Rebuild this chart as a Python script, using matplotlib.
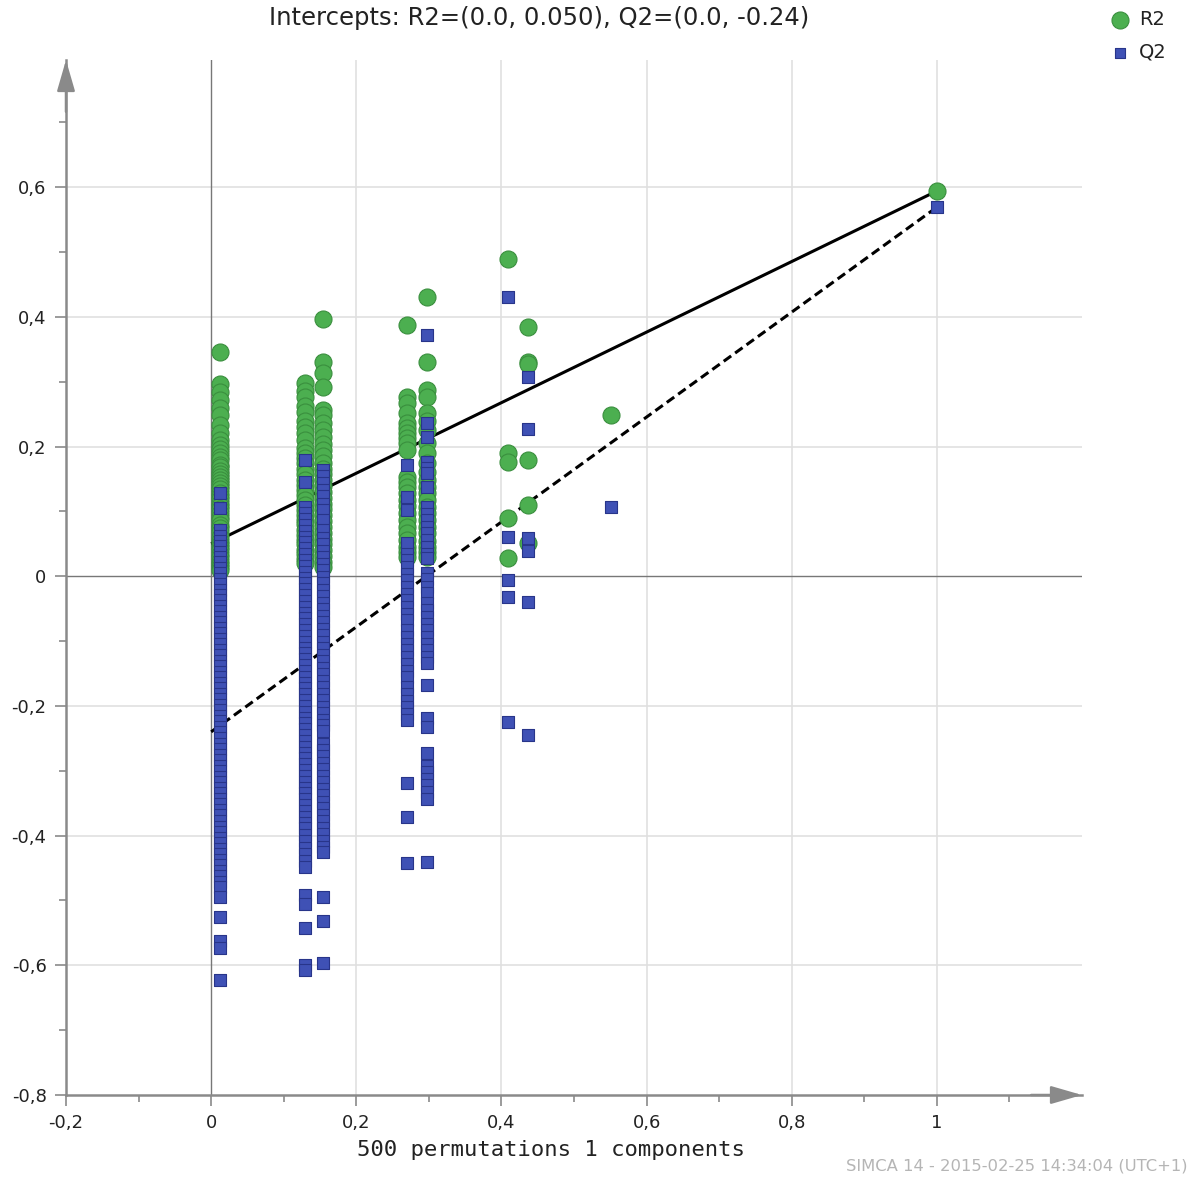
import matplotlib
matplotlib.use("Agg")
import matplotlib.pyplot as plt
import numpy as np

# ---------------- data ----------------
title_text = "Intercepts: R2=(0.0, 0.050), Q2=(0.0, -0.24)"
xlabel_text = "500 permutations 1 components"
footer_text = "SIMCA 14 - 2015-02-25 14:34:04 (UTC+1)"

# correlation of permuted Y with original Y for each group of permutations
col_x = [0.012, 0.129, 0.154, 0.270, 0.297, 0.409, 0.437, 0.551, 1.0]

r2_c1 = [0.346, 0.296, 0.284, 0.272, 0.259, 0.248, 0.233, 0.221, 0.210, 0.203, 0.196,
         0.190, 0.184, 0.179, 0.172, 0.168, 0.162, 0.157, 0.153, 0.148, 0.144, 0.139,
         0.134, 0.128, 0.124, 0.119, 0.113, 0.108, 0.103, 0.098, 0.091, 0.086, 0.079,
         0.074, 0.068, 0.060, 0.055, 0.050, 0.045, 0.040, 0.035, 0.029, 0.024, 0.019,
         0.014, 0.010]
q2_c1 = [0.128, 0.105, 0.071, 0.062, 0.055, 0.046, 0.038, 0.030, 0.022, 0.013, 0.005,
         -0.004, -0.012, -0.021, -0.029, -0.037, -0.046, -0.054, -0.063, -0.071, -0.080,
         -0.088, -0.097, -0.105, -0.114, -0.122, -0.131, -0.139, -0.148, -0.156, -0.165,
         -0.173, -0.182, -0.190, -0.199, -0.207, -0.216, -0.224, -0.233, -0.241, -0.250,
         -0.258, -0.267, -0.275, -0.284, -0.292, -0.301, -0.309, -0.318, -0.326, -0.335,
         -0.343, -0.352, -0.360, -0.369, -0.377, -0.386, -0.394, -0.403, -0.411, -0.420,
         -0.428, -0.437, -0.445, -0.454, -0.462, -0.471, -0.479, -0.495, -0.526, -0.562,
         -0.574, -0.623]

r2_c2 = [0.298, 0.286, 0.276, 0.262, 0.253, 0.240, 0.230, 0.221, 0.210, 0.198, 0.190,
         0.182, 0.174, 0.165, 0.157, 0.148, 0.140, 0.133, 0.125, 0.117, 0.110, 0.102,
         0.095, 0.087, 0.080, 0.072, 0.064, 0.056, 0.049, 0.041, 0.034, 0.027, 0.020]
q2_c2 = [0.179, 0.145, 0.106, 0.097, 0.088, 0.079, 0.070, 0.061, 0.052, 0.043, 0.034,
         0.025, 0.016, 0.007, -0.002, -0.011, -0.020, -0.029, -0.038, -0.047, -0.056,
         -0.065, -0.074, -0.083, -0.092, -0.101, -0.110, -0.119, -0.128, -0.137, -0.146,
         -0.155, -0.164, -0.173, -0.182, -0.191, -0.200, -0.209, -0.218, -0.227, -0.236,
         -0.245, -0.254, -0.263, -0.272, -0.281, -0.290, -0.299, -0.308, -0.317, -0.326,
         -0.335, -0.344, -0.353, -0.362, -0.371, -0.380, -0.389, -0.399, -0.409, -0.419,
         -0.429, -0.439, -0.449, -0.492, -0.505, -0.542, -0.600, -0.608]

r2_c3 = [0.397, 0.330, 0.313, 0.292, 0.256, 0.248, 0.236, 0.225, 0.215, 0.204, 0.194,
         0.185, 0.175, 0.166, 0.157, 0.148, 0.139, 0.130, 0.121, 0.112, 0.103, 0.094,
         0.085, 0.076, 0.067, 0.058, 0.049, 0.040, 0.031, 0.022, 0.014]
q2_c3 = [0.164, 0.154, 0.144, 0.133, 0.123, 0.112, 0.102, 0.086, 0.071, 0.059, 0.049,
         0.039, 0.029, 0.019, 0.009, -0.001, -0.011, -0.021, -0.031, -0.041, -0.051,
         -0.061, -0.071, -0.081, -0.091, -0.101, -0.111, -0.121, -0.131, -0.141, -0.151,
         -0.161, -0.171, -0.181, -0.191, -0.201, -0.211, -0.221, -0.230, -0.238, -0.258,
         -0.268, -0.278, -0.288, -0.298, -0.308, -0.318, -0.328, -0.338, -0.348, -0.358,
         -0.368, -0.378, -0.388, -0.398, -0.408, -0.418, -0.426, -0.495, -0.531, -0.596]

r2_c4 = [0.387, 0.276, 0.267, 0.252, 0.236, 0.228, 0.221, 0.213, 0.205, 0.194, 0.153,
         0.146, 0.137, 0.128, 0.117, 0.108, 0.097, 0.086, 0.076, 0.066, 0.056, 0.045,
         0.037, 0.029]
q2_c4 = [0.171, 0.122, 0.102, 0.051, 0.035, 0.025, 0.014, 0.004, -0.006, -0.017, -0.027,
         -0.037, -0.048, -0.058, -0.068, -0.083, -0.093, -0.104, -0.114, -0.125, -0.135,
         -0.146, -0.156, -0.171, -0.181, -0.192, -0.202, -0.212, -0.222, -0.319, -0.372,
         -0.443]

r2_c5 = [0.431, 0.330, 0.287, 0.276, 0.251, 0.240, 0.225, 0.205, 0.190, 0.174, 0.160,
         0.148, 0.137, 0.128, 0.117, 0.107, 0.097, 0.086, 0.076, 0.066, 0.055, 0.045,
         0.037, 0.029]
q2_c5 = [0.372, 0.236, 0.215, 0.176, 0.167, 0.159, 0.137, 0.106, 0.096, 0.086, 0.076,
         0.066, 0.056, 0.045, 0.035, 0.028, 0.005, -0.005, -0.016, -0.026, -0.042, -0.052,
         -0.063, -0.073, -0.083, -0.094, -0.104, -0.114, -0.124, -0.134, -0.168, -0.219,
         -0.233, -0.272, -0.292, -0.302, -0.312, -0.322, -0.333, -0.343, -0.441]

r2_c6 = [0.489, 0.190, 0.176, 0.089, 0.028]
q2_c6 = [0.430, 0.060, -0.006, -0.032, -0.225]

r2_c7 = [0.384, 0.330, 0.327, 0.179, 0.110, 0.051]
q2_c7 = [0.307, 0.227, 0.059, 0.039, -0.040, -0.245]

r2_c8 = [0.248]
q2_c8 = [0.106]

r2_orig = [0.594]
q2_orig = [0.569]

r2_groups = [r2_c1, r2_c2, r2_c3, r2_c4, r2_c5, r2_c6, r2_c7, r2_c8, r2_orig]
q2_groups = [q2_c1, q2_c2, q2_c3, q2_c4, q2_c5, q2_c6, q2_c7, q2_c8, q2_orig]

# regression lines: (0, intercept) -> (1, original value)
r2_intercept = 0.050
q2_intercept = -0.24

x_ticks = [-0.2, 0, 0.2, 0.4, 0.6, 0.8, 1.0]
x_tick_labels = ["-0,2", "0", "0,2", "0,4", "0,6", "0,8", "1"]
y_ticks = [-0.8, -0.6, -0.4, -0.2, 0, 0.2, 0.4, 0.6]
y_tick_labels = ["-0,8", "-0,6", "-0,4", "-0,2", "0", "0,2", "0,4", "0,6"]

# ---------------- plot ----------------
plt.rcParams['font.family'] = ['DejaVu Sans']

W, H = 1191, 1180
fig = plt.figure(figsize=(W / 100, H / 100), dpi=100)
ax = fig.add_axes([66 / W, 1 - 1095 / H, (1082 - 66) / W, (1095 - 60) / H])

ax.set_xlim(-0.2, 1.2)
ax.set_ylim(-0.8, 0.796)

r2_x = np.concatenate([[cx] * len(g) for cx, g in zip(col_x, r2_groups)])
r2_y = np.concatenate(r2_groups)
q2_x = np.concatenate([[cx] * len(g) for cx, g in zip(col_x, q2_groups)])
q2_y = np.concatenate(q2_groups)

green = '#4CAF50'
green_edge = '#3A8F3E'
blue = '#3F51B5'
blue_edge = '#28358A'

# grid
for xv in [0.2, 0.4, 0.6, 0.8, 1.0]:
    ax.axvline(xv, color='#e0e0e0', lw=1.2, zorder=0)
for yv in [-0.6, -0.4, -0.2, 0.2, 0.4, 0.6]:
    ax.axhline(yv, color='#e0e0e0', lw=1.2, zorder=0)
ax.axvline(0, color='#777777', lw=1.0, zorder=1)
ax.axhline(0, color='#777777', lw=1.0, zorder=1)

# regression lines
ax.plot([0, col_x[-1]], [r2_intercept, r2_orig[0]], color='black', lw=2.2,
        zorder=2, solid_capstyle='butt')
ax.plot([0, col_x[-1]], [q2_intercept, q2_orig[0]], color='black', lw=2.2,
        ls=(0, (3, 1.6)), zorder=2)

sc_r2 = ax.scatter(r2_x, r2_y, s=150, marker='o', facecolor=green,
                   edgecolor=green_edge, linewidth=0.8, zorder=3, label='R2')
sc_q2 = ax.scatter(q2_x, q2_y, s=76, marker='s', facecolor=blue,
                   edgecolor=blue_edge, linewidth=0.8, zorder=4, label='Q2')

# spines / ticks
for s in ['top', 'right']:
    ax.spines[s].set_visible(False)
for s in ['left', 'bottom']:
    ax.spines[s].set_color('#8a8a8a')
    ax.spines[s].set_linewidth(1.8)

ax.set_xticks(x_ticks)
ax.set_xticklabels(x_tick_labels)
ax.set_yticks(y_ticks)
ax.set_yticklabels(y_tick_labels)
ax.set_xticks(np.arange(-0.1, 1.15, 0.2), minor=True)
ax.set_yticks(np.arange(-0.7, 0.75, 0.2), minor=True)
ax.tick_params(axis='both', which='major', length=8, width=1.2, color='#8a8a8a',
               labelsize=13, labelcolor='#222222', pad=6, direction='out')
ax.tick_params(axis='both', which='minor', length=5, width=1.2, color='#8a8a8a',
               direction='out')

# axis arrows
ax.annotate('', xy=(0, 1.0), xytext=(0, 0.95), xycoords='axes fraction',
            arrowprops=dict(arrowstyle='-|>,head_length=1.9,head_width=0.55',
                            mutation_scale=10, color='#8a8a8a', lw=1.8,
                            shrinkA=0, shrinkB=0), annotation_clip=False)
ax.annotate('', xy=(1.0, 0), xytext=(0.95, 0), xycoords='axes fraction',
            arrowprops=dict(arrowstyle='-|>,head_length=1.9,head_width=0.55',
                            mutation_scale=10, color='#8a8a8a', lw=1.8,
                            shrinkA=0, shrinkB=0), annotation_clip=False)

# texts
fig.text(539 / W, 1 - 18 / H, title_text, ha='center', va='center', fontsize=17.5,
         color='#222222')
fig.text(551 / W, 1 - 1150 / H, xlabel_text, ha='center', va='center', fontsize=16,
         family='DejaVu Sans Mono', color='#222222')
fig.text(1188 / W, 1 - 1166 / H, footer_text, ha='right', va='center', fontsize=11.8,
         color='#b5b5b5')

# legend
leg = fig.legend(handles=[sc_r2, sc_q2], loc='upper left',
                 bbox_to_anchor=(1097 / W, 1 + 4 / H), frameon=False, fontsize=14,
                 scatterpoints=1, handlelength=1.0, handletextpad=0.45,
                 labelspacing=0.72, borderpad=0.2)
leg.legend_handles[1].set_sizes([45])
for t in leg.get_texts():
    t.set_color('#222222')

fig.savefig('out.png', dpi=100)
